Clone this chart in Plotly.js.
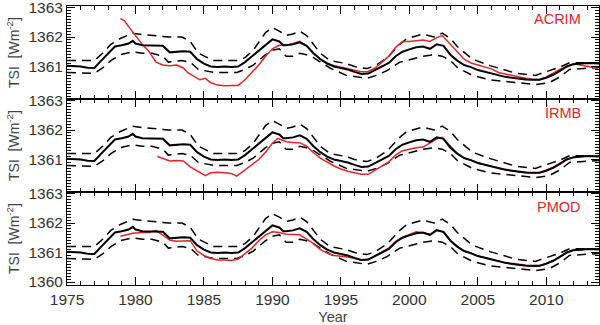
<!DOCTYPE html>
<html>
<head>
<meta charset="utf-8">
<script src="https://cdn.plot.ly/plotly-3.0.1.min.js"></script>
<style>
  html, body { margin: 0; padding: 0; background: #fff; }
  #chart { width: 600px; height: 325px; }
</style>
</head>
<body>
<div id="chart"></div>
<script>
// composite TSI (black), same in every panel
let years = [1975, 1975.5, 1976, 1976.5, 1977, 1977.5, 1978, 1978.5, 1979, 1979.5, 1979.8, 1980, 1980.5, 1981, 1981.5, 1982, 1982.5, 1983, 1983.5, 1984, 1984.5,
  1985, 1985.5, 1986, 1986.5, 1987, 1987.5, 1988, 1988.5, 1989, 1989.5, 1990, 1990.5, 1990.8, 1991, 1991.5, 1992, 1992.5, 1993, 1993.5, 1994, 1994.5,
  1995, 1995.5, 1996, 1996.5, 1997, 1997.5, 1998, 1998.5, 1999, 1999.5, 2000, 2000.5, 2001, 2001.5, 2002, 2002.5, 2003, 2003.5, 2004, 2004.5,
  2005, 2005.5, 2006, 2006.5, 2007, 2007.5, 2008, 2008.5, 2009, 2009.5, 2010, 2010.5, 2011, 2011.5, 2012, 2012.5, 2013, 2013.85];
let tsi = [1361.03, 1361.02, 1361.0, 1360.96, 1360.95, 1361.2, 1361.45, 1361.68, 1361.72, 1361.78, 1361.87, 1361.78, 1361.72, 1361.72, 1361.7, 1361.7, 1361.48, 1361.5, 1361.52, 1361.5, 1361.25,
  1361.1, 1361.0, 1360.98, 1361.0, 1360.98, 1361.0, 1361.15, 1361.35, 1361.55, 1361.75, 1361.92, 1361.85, 1361.72, 1361.72, 1361.75, 1361.82, 1361.7, 1361.45, 1361.25, 1361.1, 1361.0,
  1360.95, 1360.9, 1360.82, 1360.75, 1360.76, 1360.88, 1361.0, 1361.12, 1361.35, 1361.5, 1361.58, 1361.65, 1361.68, 1361.6, 1361.75, 1361.7, 1361.4, 1361.2, 1361.05, 1360.98,
  1360.88, 1360.82, 1360.78, 1360.72, 1360.65, 1360.62, 1360.58, 1360.56, 1360.55, 1360.55, 1360.62, 1360.72, 1360.85, 1361.0, 1361.08, 1361.1, 1361.12, 1361.1];

// uncertainty envelope (dashed)
let envYears = [1975, 1976, 1977, 1977.6, 1978.2, 1978.9, 1979.8, 1980.5, 1981.2, 1982, 1982.4, 1983.4, 1984, 1984.6, 1985.7, 1987.4, 1988, 1988.6, 1989.5,
  1990, 1990.5, 1991, 1991.5, 1992, 1992.5, 1993, 1993.5, 1994.2, 1995.4, 1996, 1996.9, 1997.6, 1998.4, 1999.3, 1999.8, 2001, 2001.8, 2002.4, 2003,
  2003.5, 2004.6, 2005.9, 2007.8, 2009.2, 2010.2, 2011, 2011.7, 2013.85];
let tsiUpper = [1361.2, 1361.2, 1361.2, 1361.45, 1361.75, 1361.95, 1362.13, 1362.08, 1362.06, 1362.02, 1362.0, 1362.0, 1361.85, 1361.45, 1361.2, 1361.2, 1361.3, 1361.55, 1362.15,
  1362.32, 1362.2, 1362.05, 1362.1, 1362.2, 1362.05, 1361.75, 1361.45, 1361.2, 1361.1, 1361.0, 1360.93, 1361.05, 1361.3, 1361.75, 1361.94, 1362.1, 1362.0, 1362.13, 1361.95,
  1361.68, 1361.25, 1361.03, 1360.77, 1360.7, 1360.85, 1360.98, 1361.13, 1361.13];
let tsiLower = [1360.8, 1360.78, 1360.77, 1360.95, 1361.2, 1361.4, 1361.5, 1361.45, 1361.45, 1361.35, 1361.15, 1361.2, 1361.15, 1360.9, 1360.8, 1360.8, 1360.9, 1361.05, 1361.4,
  1361.55, 1361.6, 1361.35, 1361.35, 1361.45, 1361.4, 1361.3, 1361.15, 1360.95, 1360.7, 1360.65, 1360.6, 1360.7, 1360.87, 1361.15, 1361.2, 1361.35, 1361.4, 1361.35, 1361.2,
  1360.97, 1360.7, 1360.55, 1360.45, 1360.39, 1360.45, 1360.65, 1360.9, 1360.97];

// ACRIM composite
let acrimYears = [1978.9, 1979.2, 1979.5, 1980, 1980.5, 1981, 1981.5, 1982, 1982.5, 1983, 1983.5, 1983.8, 1984.2, 1984.7, 1985.1, 1985.5, 1986, 1986.5, 1987, 1987.5,
  1988, 1988.5, 1989, 1989.5, 1990, 1990.5, 1991, 1991.5, 1992, 1992.5, 1993, 1993.5, 1994, 1994.5, 1995, 1995.5, 1996, 1996.5, 1997, 1997.5,
  1998, 1998.5, 1999, 1999.5, 2000, 2000.5, 2001, 2001.5, 2002, 2002.4, 2003, 2003.5, 2004, 2004.5, 2005, 2005.5, 2006, 2006.5, 2007, 2007.5,
  2008, 2008.5, 2009, 2009.5, 2010, 2010.5, 2011, 2011.5, 2012, 2012.5, 2013, 2013.8];
let acrim = [1362.62, 1362.55, 1362.35, 1362.05, 1361.75, 1361.5, 1361.15, 1361.05, 1361.03, 1361.05, 1360.95, 1360.8, 1360.7, 1360.55, 1360.6, 1360.45, 1360.37, 1360.35, 1360.36, 1360.36,
  1360.55, 1360.8, 1361.05, 1361.35, 1361.6, 1361.72, 1361.72, 1361.78, 1361.85, 1361.7, 1361.45, 1361.25, 1361.12, 1361.03, 1360.98, 1360.93, 1360.87, 1360.82, 1360.83, 1360.95,
  1361.15, 1361.35, 1361.65, 1361.85, 1361.85, 1361.88, 1361.9, 1361.85, 1361.98, 1362.05, 1361.75, 1361.5, 1361.25, 1361.12, 1361.05, 1360.97, 1360.92, 1360.8, 1360.75, 1360.68,
  1360.63, 1360.6, 1360.57, 1360.55, 1360.65, 1360.78, 1360.9, 1361.0, 1361.1, 1361.05, 1361.0, 1360.93];

// IRMB composite
let irmbYears = [1981.6, 1982, 1982.5, 1983, 1983.5, 1984, 1984.5, 1985.1, 1985.5, 1986, 1986.5, 1987, 1987.4, 1988, 1988.5, 1989, 1989.5, 1990, 1990.4,
  1991, 1991.5, 1992, 1992.5, 1993, 1993.5, 1994, 1994.5, 1995, 1995.5, 1996, 1996.5, 1997, 1997.5, 1998, 1998.5, 1999, 1999.5, 2000, 2000.5,
  2001, 2001.5, 2002, 2002.4, 2003, 2003.5, 2004, 2004.5, 2005, 2005.5, 2006, 2006.5, 2007, 2007.5, 2008, 2008.5, 2009, 2009.5, 2010, 2010.5,
  2011, 2011.5, 2012, 2012.5, 2013, 2013.8];
let irmb = [1361.1, 1361.03, 1360.95, 1360.97, 1360.95, 1360.75, 1360.6, 1360.45, 1360.55, 1360.57, 1360.55, 1360.53, 1360.44, 1360.65, 1360.82, 1361.0, 1361.25, 1361.55, 1361.72,
  1361.6, 1361.58, 1361.57, 1361.45, 1361.23, 1361.05, 1360.9, 1360.78, 1360.68, 1360.6, 1360.55, 1360.5, 1360.5, 1360.65, 1360.8, 1360.92, 1361.15, 1361.3, 1361.35, 1361.4,
  1361.42, 1361.55, 1361.7, 1361.75, 1361.45, 1361.2, 1361.05, 1360.97, 1360.88, 1360.82, 1360.77, 1360.72, 1360.65, 1360.62, 1360.58, 1360.56, 1360.54, 1360.55, 1360.63, 1360.73,
  1360.88, 1361.02, 1361.07, 1361.1, 1361.12, 1361.13];

// PMOD composite
let pmodYears = [1978.9, 1979.3, 1979.8, 1980.5, 1981, 1981.5, 1982, 1982.5, 1983, 1983.5, 1984, 1984.5, 1985, 1985.5, 1986, 1986.5, 1987, 1987.5, 1988, 1988.5,
  1989, 1989.5, 1990, 1990.5, 1991, 1991.5, 1992, 1992.5, 1993, 1993.5, 1994, 1994.5, 1995, 1995.5, 1996, 1996.5, 1997, 1997.5, 1998, 1998.5,
  1999, 1999.5, 2000, 2000.5, 2001, 2001.5, 2002, 2002.5, 2003, 2003.5, 2004, 2004.5, 2005, 2005.5, 2006, 2006.5, 2007, 2007.5, 2008, 2008.5,
  2009, 2009.5, 2010, 2010.5, 2011, 2011.5, 2012, 2012.5, 2013, 2013.8];
let pmod = [1361.55, 1361.6, 1361.65, 1361.68, 1361.68, 1361.75, 1361.6, 1361.42, 1361.38, 1361.4, 1361.4, 1361.05, 1360.9, 1360.8, 1360.75, 1360.75, 1360.73, 1360.78, 1360.95, 1361.15,
  1361.4, 1361.6, 1361.7, 1361.68, 1361.62, 1361.62, 1361.6, 1361.45, 1361.3, 1361.1, 1360.98, 1360.9, 1360.88, 1360.85, 1360.8, 1360.74, 1360.76, 1360.88, 1361.02, 1361.15,
  1361.38, 1361.52, 1361.6, 1361.7, 1361.66, 1361.6, 1361.78, 1361.68, 1361.4, 1361.2, 1361.05, 1360.97, 1360.88, 1360.83, 1360.77, 1360.7, 1360.65, 1360.6, 1360.57, 1360.55,
  1360.53, 1360.54, 1360.62, 1360.72, 1360.87, 1361.0, 1361.1, 1361.08, 1361.12, 1361.12];

let panelNames = ['ACRIM', 'IRMB', 'PMOD'];
let tickValsBottom = [1360, 1361, 1362, 1363];
let tickValsUpper = [1361, 1362, 1363];

let red = '#e3262b';
let fontFam = 'Liberation Sans, Arial, sans-serif';

// panel 0 = top (ACRIM) ... panel 2 = bottom (PMOD)
let panelSeries = [[acrimYears, acrim], [irmbYears, irmb], [pmodYears, pmod]];
let axisSuffix = ['3', '2', ''];

let traces = [];
for (let p = 0; p < 3; p++) {
    let xa = 'x' + axisSuffix[p];
    let ya = 'y' + axisSuffix[p];
    traces.push({ x: envYears, y: tsiUpper, xaxis: xa, yaxis: ya, mode: 'lines', type: 'scatter',
        line: { color: '#000', width: 1.5, dash: '9px,6px' } });
    traces.push({ x: envYears, y: tsiLower, xaxis: xa, yaxis: ya, mode: 'lines', type: 'scatter',
        line: { color: '#000', width: 1.5, dash: '9px,6px' } });
    traces.push({ x: panelSeries[p][0], y: panelSeries[p][1], xaxis: xa, yaxis: ya, mode: 'lines', type: 'scatter',
        line: { color: red, width: 1.5 } });
    traces.push({ x: years, y: tsi, xaxis: xa, yaxis: ya, mode: 'lines', type: 'scatter',
        line: { color: '#000', width: 2 } });
}

function xAxis(anchor, labels) {
    return {
        anchor: anchor,
        range: [1975, 2013.85],
        tick0: 1975, dtick: 5,
        ticks: 'inside', ticklen: 8, tickcolor: '#000', tickwidth: 1,
        minor: { dtick: 1, ticks: 'inside', ticklen: 4, tickcolor: '#000' },
        showline: true, linecolor: '#000', linewidth: 1, mirror: 'allticks',
        showgrid: false, zeroline: false,
        showticklabels: labels,
        tickfont: { family: fontFam, size: 15.5, color: '#333' }
    };
}

function yAxis(anchor, domain, ticks) {
    return {
        anchor: anchor,
        domain: domain,
        range: [1359.9, 1363.05],
        tickmode: 'array',
        tickvals: ticks,
        ticklabeloverflow: 'allow',
        ticks: 'inside', ticklen: 8, tickcolor: '#000', tickwidth: 1,
        minor: { tickmode: 'linear', tick0: 1360, dtick: 0.1, ticks: 'inside', ticklen: 4, tickcolor: '#000' },
        showline: true, linecolor: '#000', linewidth: 1, mirror: 'allticks',
        showgrid: false, zeroline: false,
        tickfont: { family: fontFam, size: 15.5, color: '#333' },
        title: { text: 'TSI  [Wm<sup>-2</sup>]', standoff: 5, font: { family: fontFam, size: 14, color: '#444' } }
    };
}

let layout = {
    width: 600, height: 325,
    margin: { l: 67, r: 1, t: 6, b: 40 },
    showlegend: false,
    paper_bgcolor: '#fff', plot_bgcolor: '#fff',
    xaxis: Object.assign(xAxis('y', true), { title: { text: 'Year', standoff: 5, font: { family: fontFam, size: 14.5, color: '#444' } } }),
    xaxis2: Object.assign(xAxis('y2', false), { matches: 'x' }),
    xaxis3: Object.assign(xAxis('y3', false), { matches: 'x' }),
    yaxis: yAxis('x', [0, 1/3], tickValsBottom),
    yaxis2: yAxis('x2', [1/3, 2/3], tickValsUpper),
    yaxis3: yAxis('x3', [2/3, 1], tickValsUpper),
    annotations: [
        { text: panelNames[0], xref: 'paper', yref: 'paper', x: 0.97, y: 0.952, xanchor: 'right', yanchor: 'middle', showarrow: false,
          font: { family: fontFam, size: 14.5, color: red } },
        { text: panelNames[1], xref: 'paper', yref: 'paper', x: 0.97, y: 0.616, xanchor: 'right', yanchor: 'middle', showarrow: false,
          font: { family: fontFam, size: 14.5, color: red } },
        { text: panelNames[2], xref: 'paper', yref: 'paper', x: 0.97, y: 0.278, xanchor: 'right', yanchor: 'middle', showarrow: false,
          font: { family: fontFam, size: 14.5, color: red } }
    ]
};

Plotly.newPlot('chart', traces, layout, { staticPlot: true });
</script>
</body>
</html>
